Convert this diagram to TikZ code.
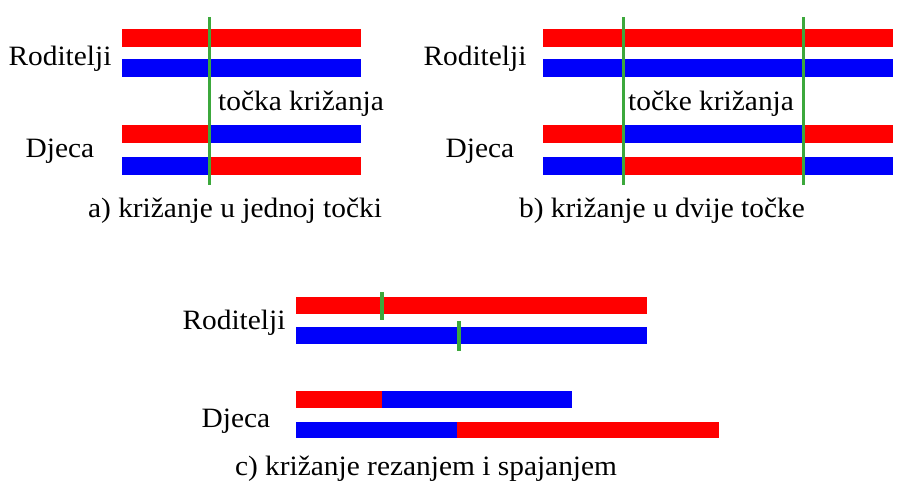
\documentclass[tikz,border=0pt]{standalone}
\usepackage{fontspec}
\setmainfont{Liberation Serif}[Ligatures=TeX]
\newcommand{\wide}[1]{\scalebox{1.05}[1]{#1}}
\definecolor{bred}{RGB}{255,0,0}
\definecolor{bblue}{RGB}{0,0,250}
\definecolor{cgreen}{RGB}{60,168,60}
\begin{document}
\begin{tikzpicture}[x=1pt,y=-1pt,
  lbl/.style={inner sep=0pt,anchor=base,font=\rmfamily\fontsize{28}{30}\selectfont},
  redbar/.style={fill=bred,draw=none},
  bluebar/.style={fill=bblue,draw=none},
  cut/.style={draw=cgreen,line width=3pt},
  cutmark/.style={draw=cgreen,line width=4pt}]
\useasboundingbox[fill=white] (0,0) rectangle (898,493);
% ---- panel a
\fill[redbar] (122,29) rectangle (361,47);
\fill[bluebar] (122,59) rectangle (361,77);
\fill[redbar] (122,125) rectangle (209,143);
\fill[bluebar] (209,125) rectangle (361,143);
\fill[bluebar] (122,157) rectangle (209,175);
\fill[redbar] (209,157) rectangle (361,175);
\coordinate (a1) at (209,17); \coordinate (a2) at (209,185);
\draw[cut] (a1) -- (a2);
\node[lbl] (ra) at (60,65) {\wide{Roditelji}};
\node[lbl] (da) at (60,157) {\wide{Djeca}};
\node[lbl,anchor=base west] (ta) at (218,110) {\wide{točka križanja}};
\node[lbl] (ca) at (235,217) {\wide{a) križanje u jednoj točki}};
% ---- panel b
\fill[redbar] (543,29) rectangle (893,47);
\fill[bluebar] (543,59) rectangle (893,77);
\fill[redbar] (543,125) rectangle (623,143);
\fill[bluebar] (623,125) rectangle (803,143);
\fill[redbar] (803,125) rectangle (893,143);
\fill[bluebar] (543,157) rectangle (623,175);
\fill[redbar] (623,157) rectangle (803,175);
\fill[bluebar] (803,157) rectangle (893,175);
\coordinate (b1) at (623,17); \coordinate (b2) at (623,185);
\coordinate (b3) at (803,17); \coordinate (b4) at (803,185);
\draw[cut] (b1) -- (b2);
\draw[cut] (b3) -- (b4);
\node[lbl] (rb) at (475,65) {\wide{Roditelji}};
\node[lbl] (db) at (480,157) {\wide{Djeca}};
\node[lbl,anchor=base west] (tb) at (628,110) {\wide{točke križanja}};
\node[lbl] (cb) at (662,217) {\wide{b) križanje u dvije točke}};
% ---- panel c
\fill[redbar] (296,297) rectangle (647,314);
\fill[bluebar] (296,327) rectangle (647,344);
\coordinate (c1) at (382,292); \coordinate (c2) at (382,320);
\coordinate (c3) at (459,321); \coordinate (c4) at (459,351);
\draw[cutmark] (c1) -- (c2);
\draw[cutmark] (c3) -- (c4);
\fill[redbar] (296,391) rectangle (382,408);
\fill[bluebar] (382,391) rectangle (572,408);
\fill[bluebar] (296,422) rectangle (457,438);
\fill[redbar] (457,422) rectangle (719,438);
\node[lbl] (rc) at (234,329) {\wide{Roditelji}};
\node[lbl] (dc) at (236,427) {\wide{Djeca}};
\node[lbl] (cc) at (426,475) {\wide{c) križanje rezanjem i spajanjem}};
\end{tikzpicture}
\end{document}
